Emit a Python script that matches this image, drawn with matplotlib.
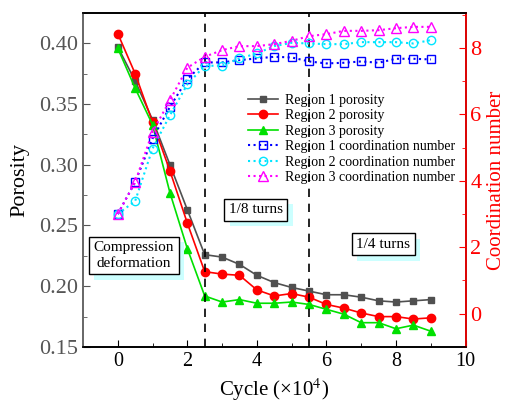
import matplotlib
matplotlib.use('Agg')
import matplotlib.pyplot as plt
import matplotlib.patheffects as pe
from matplotlib.ticker import MultipleLocator

plt.rcParams['font.family'] = ['Liberation Serif', 'DejaVu Serif']
plt.rcParams['mathtext.fontset'] = 'stix'

# 数据
cycle = [0, 0.5, 1, 1.5, 2, 2.5, 3, 3.5, 4, 4.5, 5, 5.5, 6, 6.5, 7, 7.5, 8, 8.5, 9]

por_r1 = [0.397, 0.369, 0.337, 0.300, 0.263, 0.226, 0.224, 0.218, 0.209, 0.203, 0.199,
          0.196, 0.193, 0.193, 0.191, 0.188, 0.187, 0.188, 0.189]
por_r2 = [0.408, 0.375, 0.335, 0.295, 0.252, 0.212, 0.210, 0.209, 0.197, 0.192, 0.194,
          0.191, 0.185, 0.182, 0.178, 0.175, 0.175, 0.173, 0.174]
por_r3 = [0.396, 0.363, 0.333, 0.277, 0.231, 0.192, 0.187, 0.189, 0.186, 0.186, 0.187,
          0.185, 0.181, 0.177, 0.170, 0.170, 0.165, 0.168, 0.163]

cn_r1 = [3.0, 3.96, 5.27, 6.22, 7.06, 7.56, 7.56, 7.63, 7.68, 7.73, 7.71, 7.59, 7.53,
         7.55, 7.59, 7.55, 7.67, 7.67, 7.65]
cn_r2 = [3.0, 3.39, 4.97, 5.97, 6.90, 7.46, 7.46, 7.68, 7.83, 8.05, 8.15, 8.13, 8.11,
         8.11, 8.17, 8.17, 8.17, 8.13, 8.23]
cn_r3 = [3.0, 3.96, 5.47, 6.42, 7.40, 7.73, 7.93, 8.05, 8.05, 8.11, 8.21, 8.35, 8.41,
         8.51, 8.51, 8.53, 8.59, 8.63, 8.63]

stage_lines = [2.5, 5.5]

fig = plt.figure(figsize=(5.06, 4.03), dpi=100)
ax = fig.add_axes([0.164, 0.139, 0.756, 0.829])
ax2 = ax.twinx()

# 孔隙率
l1, = ax.plot(cycle, por_r1, '-s', color='#505050', ms=5, lw=1.2, label='Region 1 porosity')
l2, = ax.plot(cycle, por_r2, '-o', color='#ff0000', ms=6, lw=1.2, label='Region 2 porosity')
l3, = ax.plot(cycle, por_r3, '-^', color='#00e000', ms=6, lw=1.2, label='Region 3 porosity')

# 配位数
l4, = ax2.plot(cycle, cn_r1, ':s', color='#0000ff', mfc='none', ms=6, lw=1.5,
               label='Region 1 coordination number')
l5, = ax2.plot(cycle, cn_r2, ':o', color='#00e5ff', mfc='none', ms=6, lw=1.5,
               label='Region 2 coordination number')
l6, = ax2.plot(cycle, cn_r3, ':^', color='#ff00ff', mfc='none', ms=6.5, lw=1.5,
               label='Region 3 coordination number')

for xv in stage_lines:
    ax.axvline(xv, color='black', ls=(0, (5, 4)), lw=1.2)

ax.set_xlim(-1, 10)
ax.set_ylim(0.15, 0.425)
ax2.set_ylim(-1, 9.05)

ax.xaxis.set_major_locator(MultipleLocator(2))
ax.xaxis.set_minor_locator(MultipleLocator(1))
ax.yaxis.set_major_locator(MultipleLocator(0.05))
ax.yaxis.set_minor_locator(MultipleLocator(0.025))
ax2.yaxis.set_major_locator(MultipleLocator(2))
ax2.yaxis.set_minor_locator(MultipleLocator(1))
ax.yaxis.set_major_formatter(plt.FormatStrFormatter('%.2f'))

ax.tick_params(axis='x', which='both', direction='in', top=False, labelsize=14.5)
ax.tick_params(axis='x', which='major', length=5)
ax.tick_params(axis='x', which='minor', length=3)
ax.tick_params(axis='y', which='both', direction='in', colors='#555555', labelsize=16)
ax.tick_params(axis='y', which='major', length=5)
ax.tick_params(axis='y', which='minor', length=3)
ax2.tick_params(axis='y', which='both', direction='in', colors='red', labelsize=16)
ax2.tick_params(axis='y', which='major', length=5)
ax2.tick_params(axis='y', which='minor', length=3)

ax.spines['left'].set_color('#666666')
ax2.spines['left'].set_color('#666666')
ax2.spines['right'].set_color('red')
for s in ['left', 'right', 'top', 'bottom']:
    ax.spines[s].set_linewidth(1.2)
    ax2.spines[s].set_linewidth(1.2)

ax.set_xlabel('Cycle (×10$^4$)', fontsize=15, labelpad=4)
ax.set_ylabel('Porosity', fontsize=16, labelpad=7)
ax2.set_ylabel('Coordination number', fontsize=15, color='red', labelpad=4)

ax2.legend(handles=[l1, l2, l3, l4, l5, l6], loc='upper left',
           bbox_to_anchor=(0.405, 0.787), frameon=False, fontsize=10,
           handlelength=2.2, labelspacing=0.18, handletextpad=0.5, borderpad=0.2)

# 阶段说明文本框（带阴影）
def box_text(x, y, s):
    t = ax.text(x, y, s, fontsize=11, ha='center', va='center', linespacing=1.25,
                transform=ax.transData, zorder=5,
                bbox=dict(boxstyle='square,pad=0.3', fc='white', ec='black', lw=1))
    t.get_bbox_patch().set_path_effects([
        pe.SimplePatchShadow(offset=(4, -4), shadow_rgbFace='#ccffff', alpha=1),
        pe.Normal()])
    return t

box_text(0.46, 0.2254, 'Compression\ndeformation')
box_text(3.97, 0.2629, '1/8 turns')
box_text(7.63, 0.2345, '1/4 turns')

fig.savefig('out.png', dpi=100)
